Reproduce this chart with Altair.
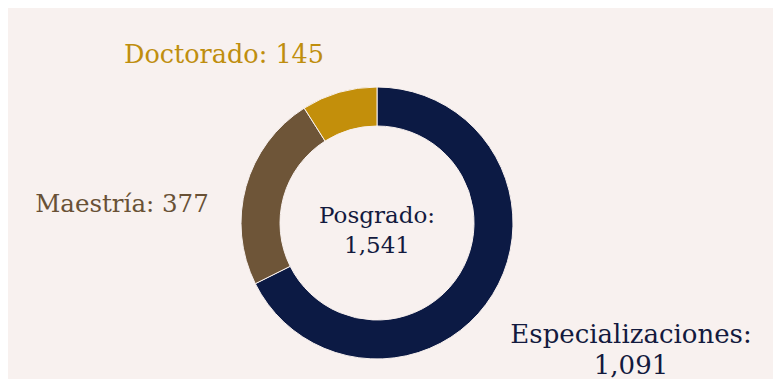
import altair as alt
import pandas as pd

categories = ["Especializaciones", "Maestría", "Doctorado"]
values = [1091, 377, 145]
seg_order = [0, 1, 2]
colors = ["#0c1a44", "#6e5538", "#c38f0b"]

label_esp = ["Especializaciones:", "1,091"]
label_mae = "Maestría: 377"
label_doc = "Doctorado: 145"
center_text = ["Posgrado:", "1,541"]

BG = "#f8f1ef"
FONT = "DejaVu Serif"

df = pd.DataFrame({"cat": categories, "val": values, "ord": seg_order})

arc = alt.Chart(df).mark_arc(
    innerRadius=97, outerRadius=136, stroke=BG, strokeWidth=1
).encode(
    theta=alt.Theta("val:Q", stack=True),
    order=alt.Order("ord:Q"),
    color=alt.Color("cat:N", scale=alt.Scale(domain=categories, range=colors), legend=None),
    x=alt.value(369),
    y=alt.value(215),
)

base = alt.Chart(pd.DataFrame({"a": [0]}))

def txt(text, x, y, color, size, lh=30):
    return base.mark_text(
        font=FONT, fontSize=size, color=color, align="center",
        baseline="alphabetic", lineHeight=lh
    ).encode(x=alt.value(x), y=alt.value(y), text=alt.value(text))

layers = [
    arc,
    txt(label_doc, 216, 55, "#bf8e0e", 25.5),
    txt(label_mae, 114, 204, "#695136", 24.5),
    txt(center_text, 369, 215, "#131a3e", 23),
    txt(label_esp, 623, 335, "#131a3e", 26, lh=31),
]

chart = alt.layer(*layers).properties(
    width=765, height=371, background=BG, padding=0,
    autosize=alt.AutoSizeParams(type="none")
).configure_view(stroke=None)

chart.save("out.html", embed_options={"renderer": "svg", "actions": False})
